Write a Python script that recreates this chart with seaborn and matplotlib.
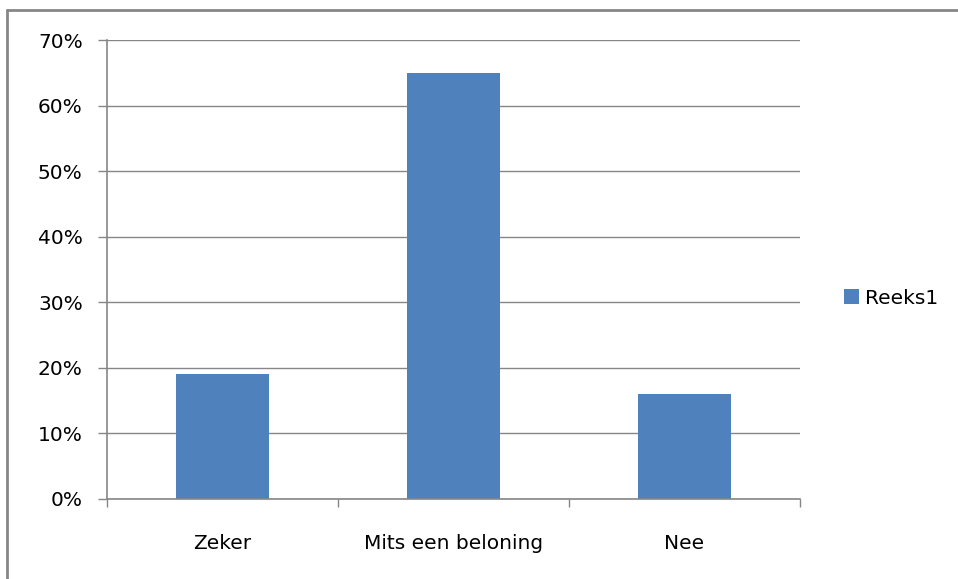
import matplotlib
matplotlib.use('Agg')
import matplotlib.pyplot as plt
import seaborn as sns
from matplotlib.lines import Line2D
from matplotlib.ticker import PercentFormatter, FixedLocator

categories = ['Zeker', 'Mits een beloning', 'Nee']
values = [19, 65, 16]
series_name = 'Reeks1'

bar_color = '#4F81BD'
line_color = '#868686'

sns.set_style('white')
plt.rcParams['font.family'] = ['DejaVu Sans']
plt.rcParams['text.color'] = 'black'

fig = plt.figure(figsize=(9.58, 5.79), dpi=100)
ax = fig.add_axes([107 / 958, 1 - 499 / 579, (800 - 107) / 958, (499 - 40) / 579])

sns.barplot(x=categories, y=values, color=bar_color, width=0.4, ax=ax,
            label=series_name, saturation=1, linewidth=0)

ax.set_ylim(0, 70)
ax.set_xlim(-0.5, len(categories) - 0.5)
ax.set_yticks(range(0, 71, 10))
ax.yaxis.set_major_formatter(PercentFormatter(decimals=0))
ax.yaxis.grid(True, color=line_color, linewidth=1)
ax.set_axisbelow(True)
ax.set_xlabel('')
ax.set_ylabel('')

for side in ['top', 'right']:
    ax.spines[side].set_visible(False)
for side in ['left', 'bottom']:
    ax.spines[side].set_color(line_color)
    ax.spines[side].set_linewidth(1.2)

ax.tick_params(axis='y', which='major', length=6.5, width=1, color=line_color,
               direction='out', pad=11, labelsize=14.5, labelcolor='black', left=True)
ax.tick_params(axis='x', which='major', length=0, pad=25, labelsize=14.5, labelcolor='black')
ax.xaxis.set_minor_locator(FixedLocator([-0.5, 0.5, 1.5, 2.5]))
ax.tick_params(axis='x', which='minor', length=6, width=1, color=line_color,
               direction='out', bottom=True)

handles, labels = ax.get_legend_handles_labels()
if ax.get_legend() is not None:
    ax.get_legend().remove()
fig.legend(handles, labels, loc='center left', bbox_to_anchor=(826 / 958, 1 - 298 / 579),
           frameon=False, fontsize=14.5, handlelength=0.75, handleheight=0.75,
           handletextpad=0.3, labelcolor='black')

# outer chart frame (only top and left visible in the crop)
fig.add_artist(Line2D([7 / 958, 7 / 958], [0, 1 - 10 / 579], transform=fig.transFigure,
                      color=line_color, linewidth=2))
fig.add_artist(Line2D([7 / 958, 1], [1 - 10 / 579, 1 - 10 / 579], transform=fig.transFigure,
                      color=line_color, linewidth=2))

plt.savefig('out.png', dpi=100)
plt.close(fig)
